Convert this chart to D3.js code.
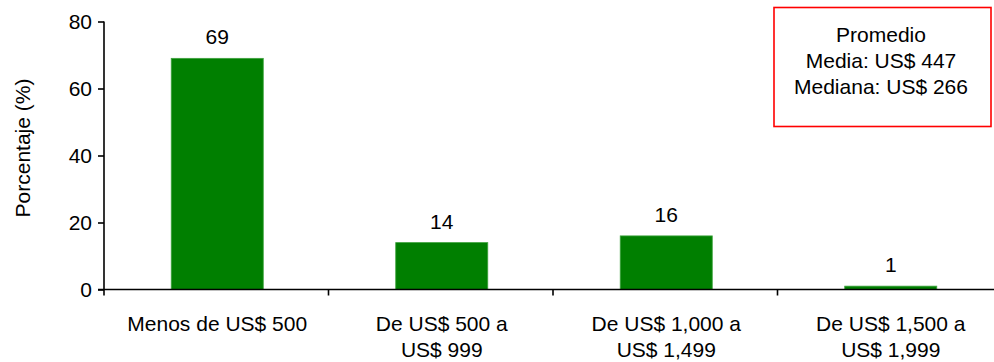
<!DOCTYPE html>
<html><head><meta charset="utf-8">
<script src="https://cdn.jsdelivr.net/npm/d3@7/dist/d3.min.js"></script>
<style>body{margin:0;background:#fff}svg{display:block}text{font-family:"Liberation Sans",Arial,sans-serif;fill:#000}</style>
</head><body>
<script>
const categories = [["Menos de US$ 500"], ["De US$ 500 a", "US$ 999"], ["De US$ 1,000 a", "US$ 1,499"], ["De US$ 1,500 a", "US$ 1,999"]];
const values = [69, 14, 16, 1];
const yTicks = [0, 20, 40, 60, 80];
const yLabel = "Porcentaje (%)";
const boxLines = ["Promedio", "Media: US$ 447", "Mediana: US$ 266"];

const W = 994, H = 362;
const svg = d3.select("body").append("svg").attr("width", W).attr("height", H);
const x0 = 105, bandW = 224.5;
const x = d3.scaleBand().domain(d3.range(categories.length)).range([x0, x0 + bandW * categories.length]).paddingInner(0.59).paddingOuter(0.295);
const y = d3.scaleLinear().domain([0, 80]).range([289.5, 21.5]);

// bars
svg.selectAll("rect.bar").data(values).join("rect").attr("class", "bar")
  .attr("x", (d, i) => x(i)).attr("width", x.bandwidth())
  .attr("y", d => y(d)).attr("height", d => y(0) - y(d))
  .attr("fill", "#007f00").attr("stroke", "#3fa33f").attr("stroke-width", 0.8);

// value labels
svg.selectAll("text.val").data(values).join("text").attr("class", "val")
  .attr("x", (d, i) => x(i) + x.bandwidth() / 2).attr("y", d => y(d) - 14)
  .attr("text-anchor", "middle").attr("font-size", 21).text(d => d);

// y axis
const yAxis = svg.append("g").attr("transform", `translate(${x0 - 1},0)`)
  .call(d3.axisLeft(y).tickValues(yTicks).tickSize(6).tickPadding(6));
yAxis.selectAll("text").attr("font-size", 21).attr("font-family", "Liberation Sans, Arial, sans-serif").attr("fill", "#000");
yAxis.selectAll("line,path").attr("stroke", "#000").attr("stroke-width", 1.6);
yAxis.select("path").attr("d", `M0,${y(80)}V${y(0)}`);

// x axis line with boundary ticks
const xEnd = x0 + bandW * categories.length;
svg.append("line").attr("x1", x0 - 7).attr("x2", xEnd).attr("y1", y(0)).attr("y2", y(0)).attr("stroke", "#000").attr("stroke-width", 1.6);
svg.selectAll("line.bt").data(d3.range(categories.length + 1)).join("line").attr("class", "bt")
  .attr("x1", i => x0 + i * bandW - 1).attr("x2", i => x0 + i * bandW - 1)
  .attr("y1", y(0)).attr("y2", y(0) + 6).attr("stroke", "#000").attr("stroke-width", 1.6);

// category labels
const cl = svg.selectAll("text.cat").data(categories).join("text").attr("class", "cat")
  .attr("text-anchor", "middle").attr("font-size", 21);
cl.selectAll("tspan").data((d, i) => d.map(s => ({s, i}))).join("tspan")
  .attr("x", d => x(d.i) + x.bandwidth() / 2)
  .attr("y", (d, j) => 331 + j * 25.5).text(d => d.s);

// y label
svg.append("text").attr("transform", "translate(30,148) rotate(-90)")
  .attr("text-anchor", "middle").attr("font-size", 21).text(yLabel);

// box
svg.append("rect").attr("x", 774).attr("y", 7.5).attr("width", 217).attr("height", 119)
  .attr("fill", "none").attr("stroke", "#ff0000").attr("stroke-width", 1.6);
svg.selectAll("text.box").data(boxLines).join("text").attr("class", "box")
  .attr("x", 881).attr("y", (d, i) => 42 + i * 26).attr("text-anchor", "middle")
  .attr("font-size", 21).text(d => d);
</script>
</body></html>
